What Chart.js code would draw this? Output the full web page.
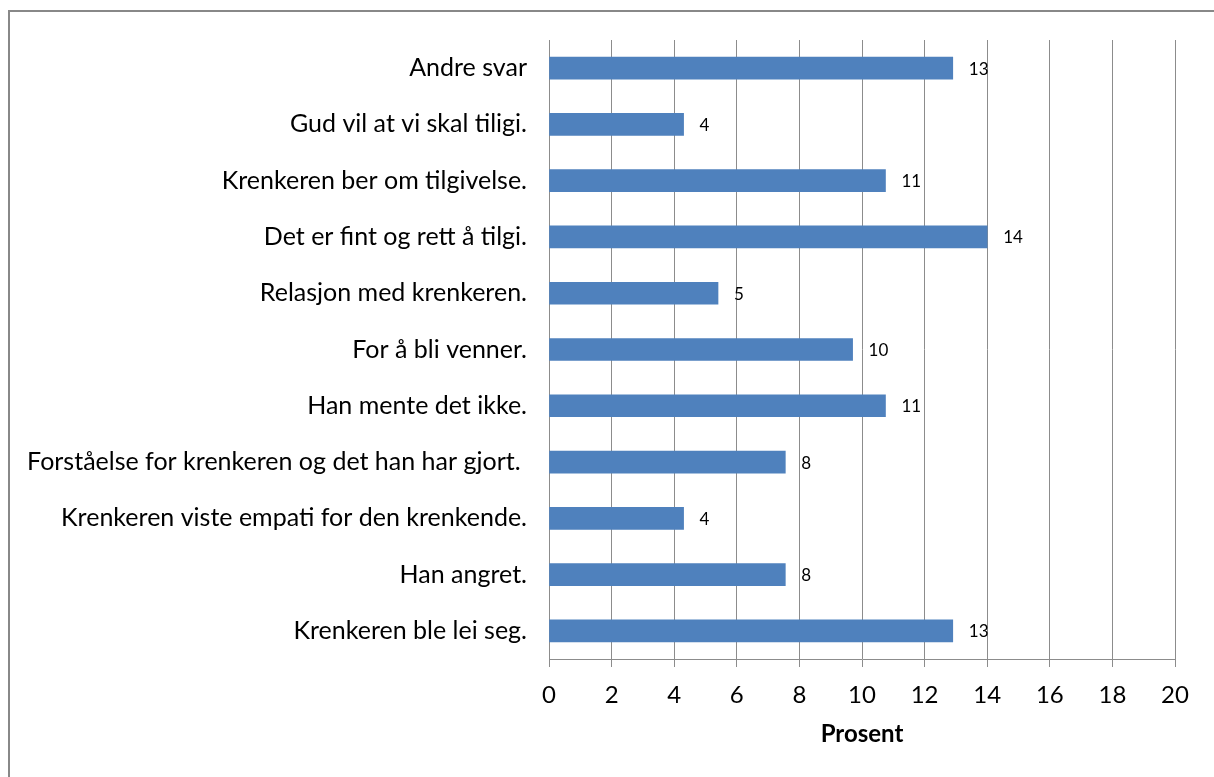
<!DOCTYPE html>
<html>
<head>
<meta charset="utf-8">
<script src="https://cdn.jsdelivr.net/npm/chart.js@4"></script>
<style>
  html, body { margin: 0; padding: 0; background: #fff; }
  canvas { display: block; }
</style>
</head>
<body>
<canvas id="tilgivelse-chart" width="1214" height="777"></canvas>
<script>
// answers, top to bottom as in the chart
const categories = [
    "Andre svar",
    "Gud vil at vi skal tiligi.",
    "Krenkeren ber om tilgivelse.",
    "Det er fint og rett å tilgi.",
    "Relasjon med krenkeren.",
    "For å bli venner.",
    "Han mente det ikke.",
    "Forståelse for krenkeren og det han har gjort. ",
    "Krenkeren viste empati for den krenkende.",
    "Han angret.",
    "Krenkeren ble lei seg.",
];
// bar lengths (percent)
const percentValues = [12.9, 4.3, 10.75, 14.0, 5.4, 9.7, 10.75, 7.55, 4.3, 7.55, 12.9];
// rounded labels printed next to the bars
const valueLabels = ["13", "4", "11", "14", "5", "10", "11", "8", "4", "8", "13"];
const axisMin = 0;
const axisMax = 20;
const axisStep = 2;
const axisTitle = "Prosent";

Chart.defaults.font.family = "Lato, 'Liberation Sans', sans-serif";
Chart.defaults.color = "#000";

// outer frame like the excel chart area
const framePlugin = {
    id: "frame",
    beforeDraw: (chart) => {
        const ctx = chart.ctx;
        ctx.save();
        ctx.fillStyle = "#fff";
        ctx.fillRect(0, 0, chart.width, chart.height);
        ctx.strokeStyle = "#888";
        ctx.lineWidth = 2;
        ctx.strokeRect(9, 11, chart.width + 20, chart.height + 20);
        ctx.restore();
    },
};

// value labels to the right of each bar
const valueLabelPlugin = {
    id: "valueLabels",
    afterDatasetsDraw: (chart) => {
        const ctx = chart.ctx;
        const meta = chart.getDatasetMeta(0);
        ctx.save();
        ctx.font = "17px Lato, sans-serif";
        ctx.fillStyle = "#000";
        ctx.textAlign = "left";
        ctx.textBaseline = "middle";
        meta.data.forEach((bar, i) => {
            ctx.fillText(valueLabels[i], bar.x + 16, bar.y + 1);
        });
        ctx.restore();
    },
};

const drawChart = () => {
    const element = document.getElementById("tilgivelse-chart");
    const gridGray = "#8c8c8c";

    const config = {
        type: "bar",
        data: {
            labels: categories,
            datasets: [
                {
                    label: axisTitle,
                    data: percentValues,
                    backgroundColor: "#4f81bd",
                    barThickness: 22,
                },
            ],
        },
        options: {
            indexAxis: "y",
            responsive: false,
            animation: false,
            layout: {
                padding: { top: 40, right: 39, bottom: 0, left: 0 },
            },
            plugins: {
                legend: { display: false },
                tooltip: { enabled: false },
            },
            scales: {
                x: {
                    min: axisMin,
                    max: axisMax,
                    afterFit: (scale) => { scale.height = 118; },
                    ticks: {
                        stepSize: axisStep,
                        padding: 14,
                        color: "#000",
                        font: { size: 24 },
                    },
                    grid: {
                        color: gridGray,
                        lineWidth: 1,
                        tickLength: 8,
                    },
                    border: { color: gridGray, width: 1 },
                    title: {
                        display: true,
                        text: axisTitle,
                        color: "#000",
                        font: { size: 24, weight: "bold" },
                        padding: { top: 0, bottom: 28 },
                    },
                },
                y: {
                    afterFit: (scale) => { scale.width = 549; },
                    ticks: {
                        padding: 22,
                        color: "#000",
                        font: { size: 25 },
                    },
                    grid: { display: false, drawTicks: false },
                    border: { color: gridGray, width: 1 },
                },
            },
        },
        plugins: [framePlugin, valueLabelPlugin],
    };

    return new Chart(element, config);
};

document.fonts.load("25px Lato").then(drawChart, drawChart);
</script>
</body>
</html>
